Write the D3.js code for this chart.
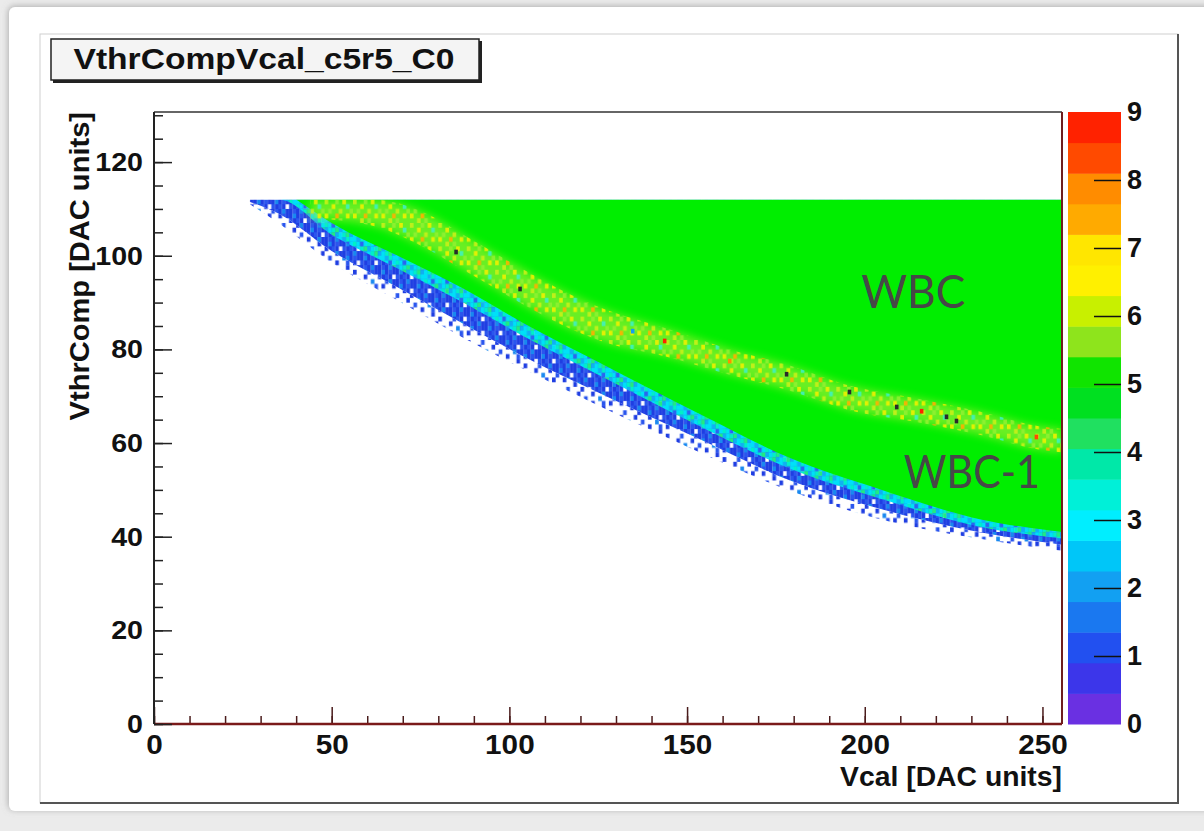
<!DOCTYPE html>
<html>
<head>
<meta charset="utf-8">
<script src="https://cdn.jsdelivr.net/npm/d3@7"></script>
<style>
  html, body { margin: 0; padding: 0; background: #ebebeb; }
  svg { display: block; }
</style>
</head>
<body>
<div id="chart"></div>
<script>
// histogram ranges
const vcalRange = [0, 255.5];
const vthrRange = [0, 130.7];
const zRange = [0, 9];
const vthrTop = 112;

// lower edge of the response (Vcal -> VthrComp)
const edgeVcal = [27, 35, 50, 68, 87, 104, 125, 153, 179, 204, 232, 255.5];
const blueLow  = [111, 107, 98.5, 90.7, 82.5, 75.8, 68, 58.2, 49.8, 43.8, 39.6, 37];
const blueCore = [111.5, 109, 101, 93.5, 85.5, 78.5, 70.8, 61, 52, 46, 41, 38.3];
const cyanLow  = [112, 112, 104.5, 97.5, 90, 82.8, 74.6, 63.8, 54.5, 48.2, 42.2, 39.6];
const greenVcal = [40, 50, 68, 87, 104, 125, 153, 179, 204, 232, 255.5];
const greenLow  = [112, 107, 100.2, 93, 85.6, 77.3, 66.4, 56.8, 50.2, 43.8, 41];

// WBC / WBC-1 boundary band
const bandVcal = [44, 61, 78, 87, 127, 144, 162, 177, 197, 216, 232, 249, 255.5];
const bandHi   = [112, 112, 108.5, 104.5, 88.5, 84.5, 80, 77, 72, 69.3, 66.8, 63.6, 63];
const bandLo   = [108, 106.5, 101, 97, 81.5, 78.5, 74.6, 71.6, 66.8, 64.3, 61.8, 58.6, 58];

// single hot bins inside the band (z > 9 drawn dark)
const hotVcal = [85, 103, 134.7, 143.7, 162, 178, 195.7, 209, 216, 223, 225.8, 248.3];
const hotVthr = [100.8, 92.9, 83.9, 81.8, 77.5, 74.7, 70.9, 67.7, 66.8, 65.6, 64.7, 61.3];
const hotZ    = [10, 10, 2, 8.7, 8, 10, 10, 10, 8.7, 10, 10, 8.2];

// 20 contour colours, 0 -> 9
const palette = ["#6a30e2", "#3c36ea", "#2250f0", "#1a78f0", "#12a0f2", "#00c6f8", "#00eeff", "#00f0d8",
  "#00e8a8", "#20e060", "#00e020", "#10e400", "#8ee41c", "#c8f000", "#fff000", "#ffe600",
  "#ffaa00", "#ff8c00", "#ff4a00", "#ff2200"];

const labels = [
  {text: "WBC", v: 199, t: 88.8, w: 104},
  {text: "WBC-1", v: 211, t: 50.4, w: 136}
];

const W = 1204, H = 831;
const x = d3.scaleLinear(vcalRange, [154, 1062]);
const y = d3.scaleLinear(vthrRange, [724, 112]);
const z = d3.scaleLinear(zRange, [724, 112]);
const color = d3.scaleQuantize(zRange, palette);
const cw = x(1) - x(0), ch = y(0) - y(1);
const rootFont = "'Liberation Sans', Arial, sans-serif";

const svg = d3.select("#chart").append("svg")
  .attr("width", W).attr("height", H)
  .attr("viewBox", [0, 0, W, H])
  .style("font-family", rootFont);

// ROOT's bold Helvetica in the picture is a bit wider than Liberation
function stretch(sel, k) {
  sel.each(function () {
    const w = this.getComputedTextLength();
    d3.select(this).attr("textLength", w * k).attr("lengthAdjust", "spacingAndGlyphs");
  });
}

const defs = svg.append("defs");
const shadow = defs.append("filter").attr("id", "shadow")
  .attr("x", "-5%").attr("y", "-5%").attr("width", "110%").attr("height", "110%");
shadow.append("feDropShadow").attr("dx", -1).attr("dy", -1).attr("stdDeviation", 3)
  .attr("flood-color", "#888").attr("flood-opacity", 0.6);
defs.append("filter").attr("id", "soft")
  .attr("x", "-5%").attr("y", "-20%").attr("width", "110%").attr("height", "140%")
  .append("feGaussianBlur").attr("stdDeviation", 4);

defs.append("clipPath").attr("id", "plotclip")
  .append("rect").attr("x", x(0)).attr("y", y(vthrRange[1]))
  .attr("width", x(vcalRange[1]) - x(0)).attr("height", y(0) - y(vthrRange[1]));

// speckle textures, one character per bin, "." left empty
function addPattern(id, tile, colors) {
  const p = defs.append("pattern").attr("id", id)
    .attr("patternUnits", "userSpaceOnUse")
    .attr("x", x(0)).attr("y", y(vthrTop))
    .attr("width", tile[0].length * cw).attr("height", tile.length * ch);
  tile.forEach((row, r) => [...row].forEach((c, i) => {
    if (c === ".") return;
    p.append("rect").attr("x", i * cw).attr("y", r * ch)
      .attr("width", cw + 0.1).attr("height", ch + 0.1).attr("fill", colors[c]);
  }));
}
const blues = {b: "#1f3ee2", B: "#2a56ee", l: "#1888f0"};
addPattern("blueSparse", ["b...B...", "...b...b", ".B...l..", "b..b..B.", "......b."], blues);
addPattern("blueDense", ["bBbbl", "Bb.Bb", "blbbB"], blues);
addPattern("cyanTex", ["cLtc", "tcBc", "Lcte", "cteL"],
  {c: "#00e0f8", t: "#00f0c8", L: "#10b0f2", e: "#20ec80", B: "#2a64f0"});
addPattern("bandTex", ["Y..l.y..", "..y...c.", ".l..Y..l", "y..o..y.", "..Y.l..."],
  {Y: "#c8f018", y: "#f0f000", l: "#90f030", o: "#ffb000", c: "#40f0c0"});

// page background and canvas
svg.append("rect").attr("width", W).attr("height", H).attr("fill", "#ebebeb");
svg.append("rect").attr("x", 9).attr("y", 7).attr("width", W + 20).attr("height", 804)
  .attr("rx", 6).attr("fill", "#fff").attr("filter", "url(#shadow)");
svg.append("rect").attr("x", 40).attr("y", 34).attr("width", 1138).attr("height", 769)
  .attr("fill", "#fff").attr("stroke", "#d0d0d0");
svg.append("path").attr("d", "M1178,34V803H40").attr("fill", "none")
  .attr("stroke", "#555").attr("stroke-width", 2);

// histogram body
const plot = svg.append("g").attr("clip-path", "url(#plotclip)");

const areaFrom = (vs, lows) => d3.area()
  .x((d, i) => x(vs[i]))
  .y0((d, i) => y(lows[i]))
  .y1(() => y(vthrTop))
  .curve(d3.curveMonotoneX)(vs);

plot.append("path").attr("d", areaFrom(edgeVcal, blueLow)).attr("fill", "url(#blueSparse)");
plot.append("path").attr("d", areaFrom(edgeVcal, blueCore)).attr("fill", "#fff");
plot.append("path").attr("d", areaFrom(edgeVcal, blueCore)).attr("fill", "url(#blueDense)");
plot.append("path").attr("d", areaFrom(edgeVcal, cyanLow)).attr("fill", "url(#cyanTex)");
plot.append("path").attr("d", areaFrom(greenVcal, greenLow)).attr("fill", "#00ee00");

const band = d3.area()
  .x((d, i) => x(bandVcal[i]))
  .y0((d, i) => y(bandLo[i]))
  .y1((d, i) => y(bandHi[i]))
  .curve(d3.curveMonotoneX);
const bandLayer = plot.append("g").attr("clip-path", null);
bandLayer.append("path").attr("d", band(bandVcal)).attr("fill", "#c0f040")
  .attr("opacity", 0.55).attr("filter", "url(#soft)");
bandLayer.append("path").attr("d", band(bandVcal)).attr("fill", "url(#bandTex)").attr("opacity", 0.9);

plot.selectAll(".hot").data(hotVcal).join("rect")
  .attr("class", "hot")
  .attr("x", (d, i) => x(hotVcal[i] - 0.5))
  .attr("y", (d, i) => y(hotVthr[i] + 0.5))
  .attr("width", cw).attr("height", ch)
  .attr("fill", (d, i) => hotZ[i] > 9 ? "#2a2a2a" : color(hotZ[i]));

// keep the band haze from spilling above the scan range
plot.append("rect").attr("x", x(0)).attr("y", y(vthrRange[1]))
  .attr("width", x(vcalRange[1]) - x(0)).attr("height", y(vthrTop) - y(vthrRange[1]))
  .attr("fill", "#fff");

// frame
svg.append("line").attr("x1", x(0)).attr("x2", x(vcalRange[1]))
  .attr("y1", y(vthrRange[1])).attr("y2", y(vthrRange[1])).attr("stroke", "#333").attr("stroke-width", 1.5);
svg.append("line").attr("x1", x(vcalRange[1])).attr("x2", x(vcalRange[1]))
  .attr("y1", y(vthrRange[1])).attr("y2", y(0)).attr("stroke", "#6e1e1e").attr("stroke-width", 2);

// x axis
const xMinor = svg.append("g").attr("transform", `translate(0,${y(0)})`)
  .call(d3.axisBottom(x).tickValues(d3.range(0, 256, 10)).tickSize(-8).tickFormat(""));
const xAxis = svg.append("g").attr("transform", `translate(0,${y(0)})`)
  .call(d3.axisBottom(x).tickValues(d3.range(0, 251, 50)).tickSize(-17).tickPadding(11).tickFormat(d3.format("d")));
[xMinor, xAxis].forEach(g => {
  g.select(".domain").remove();
  g.selectAll(".tick line").attr("stroke", "#4a1c1c").attr("stroke-width", 1.5);
});
svg.append("line").attr("x1", x(0)).attr("x2", x(vcalRange[1]))
  .attr("y1", y(0)).attr("y2", y(0)).attr("stroke", "#7a1a1a").attr("stroke-width", 2.5);
xAxis.selectAll("text").attr("font-size", 27).attr("font-weight", "bold").attr("fill", "#111")
  .style("font-family", rootFont).call(stretch, 1.1);

// y axis
const yMinor = svg.append("g").attr("transform", `translate(${x(0)},0)`)
  .call(d3.axisLeft(y).tickValues(d3.range(0, 131, 5)).tickSize(-9).tickFormat(""));
const yAxis = svg.append("g").attr("transform", `translate(${x(0)},0)`)
  .call(d3.axisLeft(y).tickValues(d3.range(0, 121, 20)).tickSize(-18).tickPadding(11).tickFormat(d3.format("d")));
[yMinor, yAxis].forEach(g => {
  g.select(".domain").remove();
  g.selectAll(".tick line").attr("stroke", "#222").attr("stroke-width", 1.5);
});
svg.append("line").attr("x1", x(0)).attr("x2", x(0))
  .attr("y1", y(vthrRange[1])).attr("y2", y(0)).attr("stroke", "#222").attr("stroke-width", 2);
yAxis.selectAll("text").attr("font-size", 26).attr("font-weight", "bold").attr("fill", "#111")
  .style("font-family", rootFont).call(stretch, 1.1);

// axis titles
svg.append("text").attr("x", x(vcalRange[1])).attr("y", 786)
  .attr("text-anchor", "end").attr("font-size", 27.5).attr("font-weight", "bold").attr("fill", "#111")
  .text("Vcal [DAC units]").call(stretch, 1.03);
svg.append("text").attr("transform", `translate(89,${y(vthrRange[1])}) rotate(-90)`)
  .attr("text-anchor", "end").attr("font-size", 28.5).attr("font-weight", "bold").attr("fill", "#111")
  .text("VthrComp [DAC units]").call(stretch, 1.02);

// colour bar
const barX0 = 1068, barX1 = 1121;
const step = (zRange[1] - zRange[0]) / palette.length;
svg.append("g").selectAll("rect").data(palette).join("rect")
  .attr("x", barX0).attr("width", barX1 - barX0)
  .attr("y", (d, i) => z((i + 1) * step))
  .attr("height", (d, i) => z(i * step) - z((i + 1) * step) + 0.5)
  .attr("fill", d => d);
const zAxis = svg.append("g").attr("transform", `translate(${barX1},0)`)
  .call(d3.axisRight(z).tickValues(d3.range(0, 10, 1)).tickSize(-27).tickPadding(6).tickFormat(d3.format("d")));
zAxis.select(".domain").remove();
zAxis.selectAll(".tick line").attr("stroke", "#111").attr("stroke-width", 1.5);
zAxis.selectAll(".tick").filter(d => d === 0 || d === 9).select("line").remove();
zAxis.selectAll("text").attr("font-size", 27).attr("font-weight", "bold").attr("fill", "#111")
  .style("font-family", rootFont);

// title box
svg.append("rect").attr("x", 53).attr("y", 41).attr("width", 429).attr("height", 42).attr("fill", "#222");
svg.append("rect").attr("x", 51).attr("y", 39).attr("width", 428).attr("height", 41)
  .attr("fill", "#f4f4f4").attr("stroke", "#222").attr("stroke-width", 1.5);
svg.append("text").attr("x", 264).attr("y", 69).attr("text-anchor", "middle")
  .attr("font-size", 30).attr("font-weight", "bold").attr("fill", "#111")
  .text("VthrCompVcal_c5r5_C0").call(stretch, 1.12);

// annotations
svg.append("g").selectAll("text").data(labels).join("text")
  .attr("x", d => x(d.v)).attr("y", d => y(d.t))
  .attr("font-family", "Lato, 'Open Sans', sans-serif")
  .attr("font-size", 46).attr("fill", "#474747")
  .attr("textLength", d => d.w).attr("lengthAdjust", "spacingAndGlyphs")
  .text(d => d.text);
</script>
</body>
</html>
